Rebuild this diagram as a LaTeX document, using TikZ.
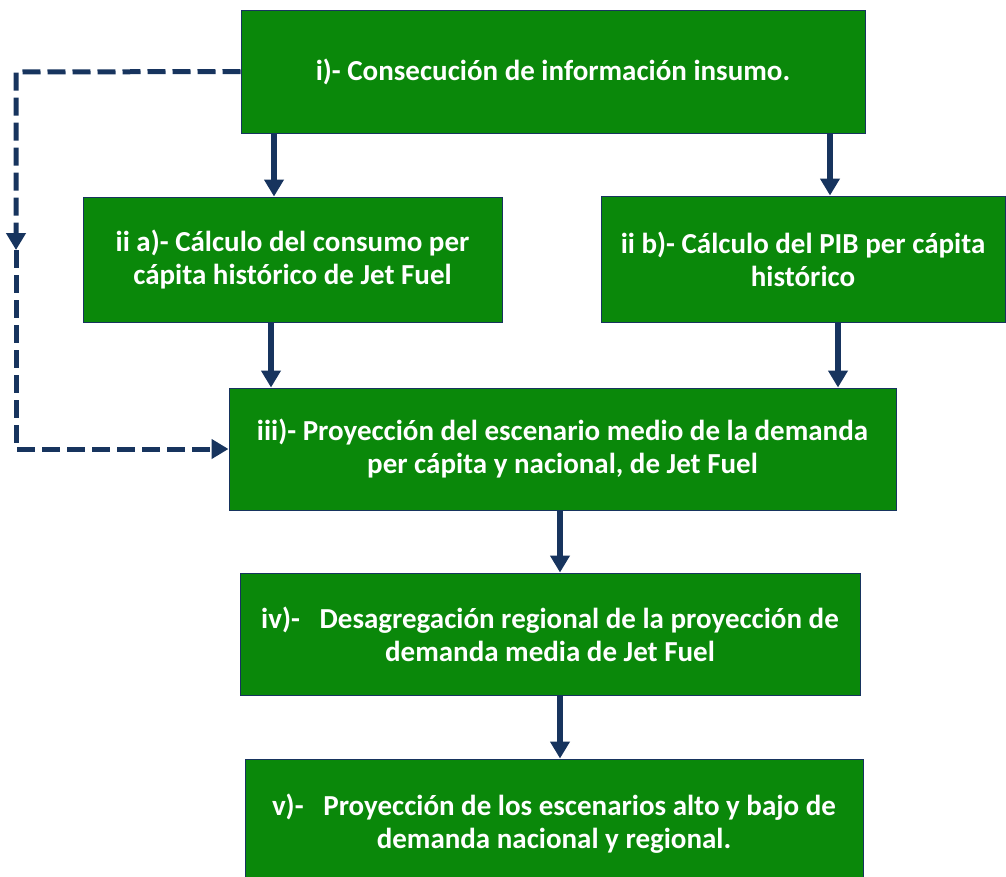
\documentclass[tikz,border=0pt]{standalone}
\usepackage{fontspec}
\setmainfont{Carlito}
\usetikzlibrary{arrows.meta}
\definecolor{boxgreen}{RGB}{10,136,10}
\definecolor{navy}{RGB}{23,52,94}
\tikzset{
  box/.style={draw=navy, line width=1pt, fill=boxgreen, text=white, align=center,
    inner sep=0pt, font=\fontsize{29}{33}\selectfont\bfseries},
  arr/.style={draw=navy, line width=5.5pt, -{Triangle[length=17pt,width=19pt]}},
  dasharr/.style={draw=navy, line width=5pt, dash pattern=on 18pt off 7pt, -{Triangle[length=17pt,width=19pt]}}
}
\begin{document}
\begin{tikzpicture}[x=1pt,y=-1pt]
\useasboundingbox (0,0) rectangle (1006,876);
\clip (0,0) rectangle (1006,876);
\node[box, minimum width=624pt, minimum height=123pt] (i) at (553,71.5) {i)- Consecución de información insumo.};
\node[box, minimum width=419pt, minimum height=125pt] (iia) at (292.5,259.5) {ii a)- Cálculo del consumo per\\cápita histórico de Jet Fuel};
\node[box, minimum width=404pt, minimum height=126pt] (iib) at (803,259) {ii b)- Cálculo del PIB per cápita\\histórico};
\node[box, minimum width=667pt, minimum height=122pt] (iii) at (562.5,449) {iii)- Proyección del escenario medio de la demanda\\per cápita y nacional, de Jet Fuel};
\node[box, minimum width=620pt, minimum height=122pt] (iv) at (550,634) {iv)-\ \ \ Desagregación regional de la proyección de\\demanda media de Jet Fuel};
\node[box, minimum width=618pt, minimum height=130pt] (v) at (554,824) {v)-\ \ \ Proyección de los escenarios alto y bajo de\\demanda nacional y regional.};
\coordinate (xa) at (274,0);
\coordinate (xb) at (830,0);
\coordinate (xc) at (271,0);
\coordinate (xd) at (838,0);
\coordinate (xe) at (560,0);
\coordinate (c1) at (16,72);
\coordinate (cm) at (16,250);
\coordinate (c2) at (16,449);
\draw[arr] (i.south -| xa) -- (iia.north -| xa);
\draw[arr] (i.south -| xb) -- (iib.north -| xb);
\draw[arr] (iia.south -| xc) -- (iii.north -| xc);
\draw[arr] (iib.south -| xd) -- (iii.north -| xd);
\draw[arr] (iii.south -| xe) -- (iv.north -| xe);
\draw[arr] (iv.south -| xe) -- (v.north -| xe);
\draw[dasharr] (i.west) -- (c1) -- (cm);
\draw[dasharr] (cm) -- (c2) -- (iii.west);
\end{tikzpicture}
\end{document}
